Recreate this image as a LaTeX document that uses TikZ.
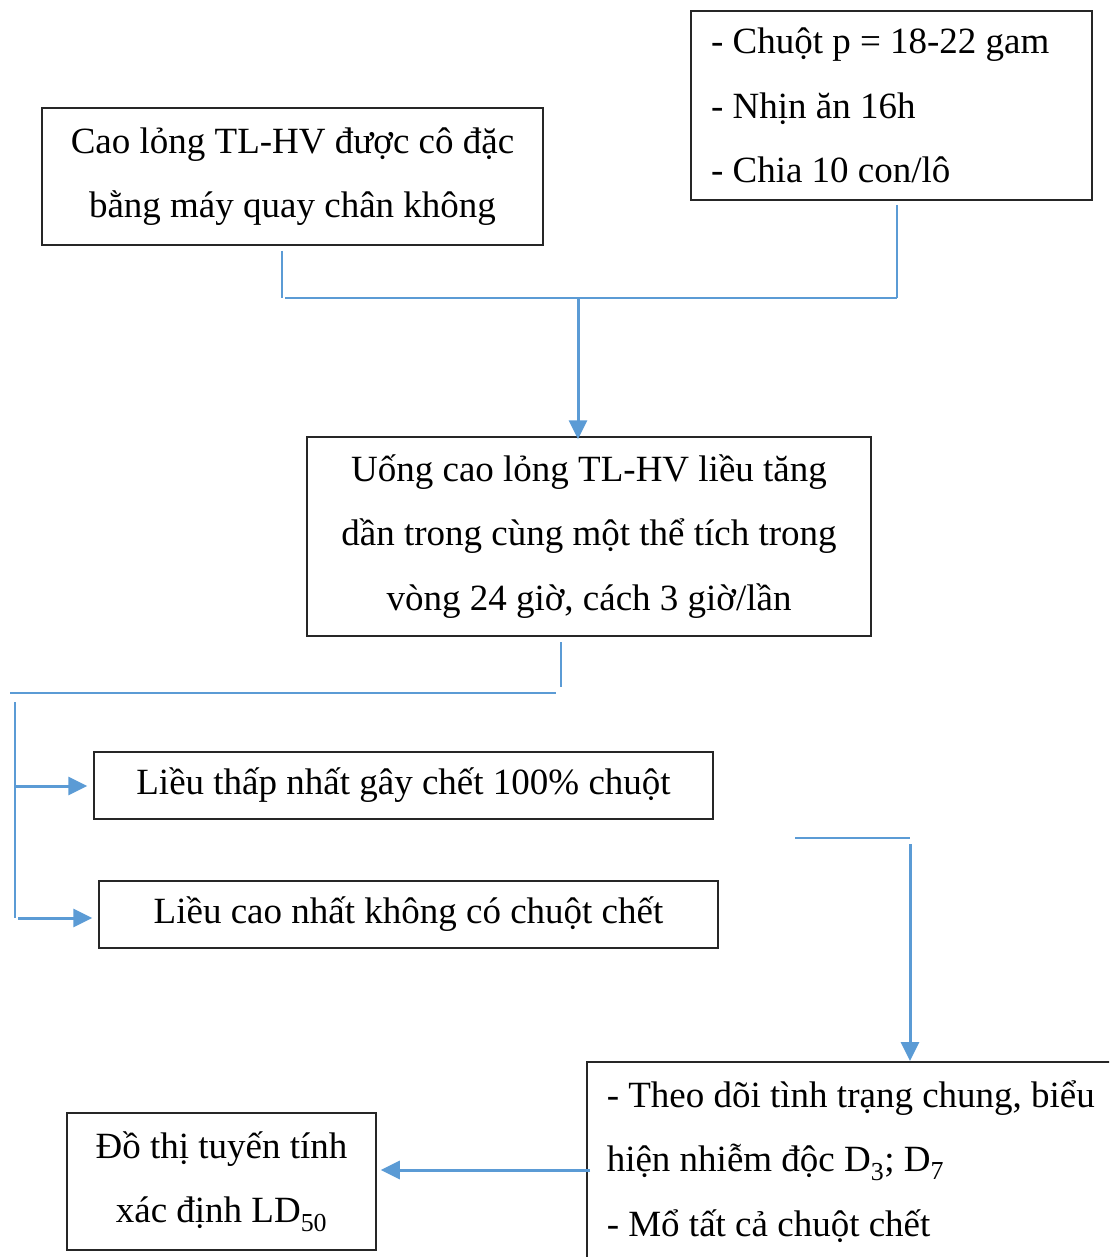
\documentclass[tikz,border=0pt]{standalone}
\usepackage{fontspec}
\setmainfont{Liberation Serif}
\usetikzlibrary{arrows.meta}
\definecolor{lineblue}{RGB}{91,155,213}
\begin{document}
\begin{tikzpicture}[x=1pt,y=-1pt,
  box/.style={draw=black!85,line width=1.5pt,inner sep=0pt,font=\fontsize{37}{64.5}\selectfont},
  conn/.style={draw=lineblue,line width=2pt},
  arr/.style={draw=lineblue,line width=3pt,-{Triangle[length=19pt,width=18pt]}}]
\useasboundingbox (0,0) rectangle (1109,1257);
\clip (0,0) rectangle (1109,1257);
% boxes
\node[box,minimum width=501pt,minimum height=137pt,align=center] (cao) at (292.5,176.5)
  {Cao lỏng TL-HV được cô đặc\\bằng máy quay chân không};
\node[box,minimum height=189pt,text width=361pt,align=flush left,inner xsep=20pt] (chuot) at (891.5,105.5)
  {- Chuột p = 18-22 gam\\- Nhịn ăn 16h\\- Chia 10 con/lô};
\node[box,minimum width=564pt,minimum height=199pt,align=center] (uong) at (589,536.5)
  {Uống cao lỏng TL-HV liều tăng\\dần trong cùng một thể tích trong\\vòng 24 giờ, cách 3 giờ/lần};
\node[box,minimum width=619pt,minimum height=67pt,align=center] (thap) at (403.5,785.5)
  {Liều thấp nhất gây chết 100\% chuột};
\node[box,minimum width=619pt,minimum height=67pt,align=center] (cao2) at (408.5,914.5)
  {Liều cao nhất không có chuột chết};
\node[box,minimum height=199pt,text width=504pt,align=flush left,anchor=north west,inner xsep=20pt] (theo) at (586,1061)
  {- Theo dõi tình trạng chung, biểu\\hiện nhiễm độc D\textsubscript{3}; D\textsubscript{7}\\- Mổ tất cả chuột chết};
\node[box,minimum width=309pt,minimum height=137pt,align=center] (dothi) at (221.5,1181.5)
  {Đồ thị tuyến tính\\xác định LD\textsubscript{50}};
% connectors top
\coordinate (a1) at (282,251);
\coordinate (a2) at (282,298);
\coordinate (b1) at (897,205);
\coordinate (b2) at (897,298);
\coordinate (h1) at (285,298);
\coordinate (m1) at (578,298);
\draw[conn] (a1) -- (a2);
\draw[conn] (b1) -- (b2);
\draw[conn] (h1) -- (b2);
\draw[arr] (m1) -- ([yshift=-3pt]uong.north -| m1);
% middle connectors
\coordinate (c1) at (561,642);
\coordinate (c2) at (561,687);
\coordinate (d1) at (10,693);
\coordinate (d2) at (556,693);
\coordinate (e1) at (15,702);
\coordinate (e2) at (15,918);
\coordinate (f1) at (15,786);
\coordinate (f2) at (18,918);
\draw[conn] (c1) -- (c2);
\draw[conn] (d1) -- (d2);
\draw[conn] (e1) -- (e2);
\draw[arr] (f1) -- ([xshift=-6pt]thap.west |- f1);
\draw[arr] (f2) -- ([xshift=-6pt]cao2.west |- f2);
% right connectors
\coordinate (g1) at (795,838);
\coordinate (g2) at (910,838);
\coordinate (k1) at (910,844);
\draw[conn] (g1) -- (g2);
\draw[arr] (k1) -- (theo.north -| k1);
% bottom arrow
\coordinate (n1) at (590,1170);
\draw[arr] (n1) -- ([xshift=4pt]dothi.east |- n1);
\end{tikzpicture}
\end{document}
